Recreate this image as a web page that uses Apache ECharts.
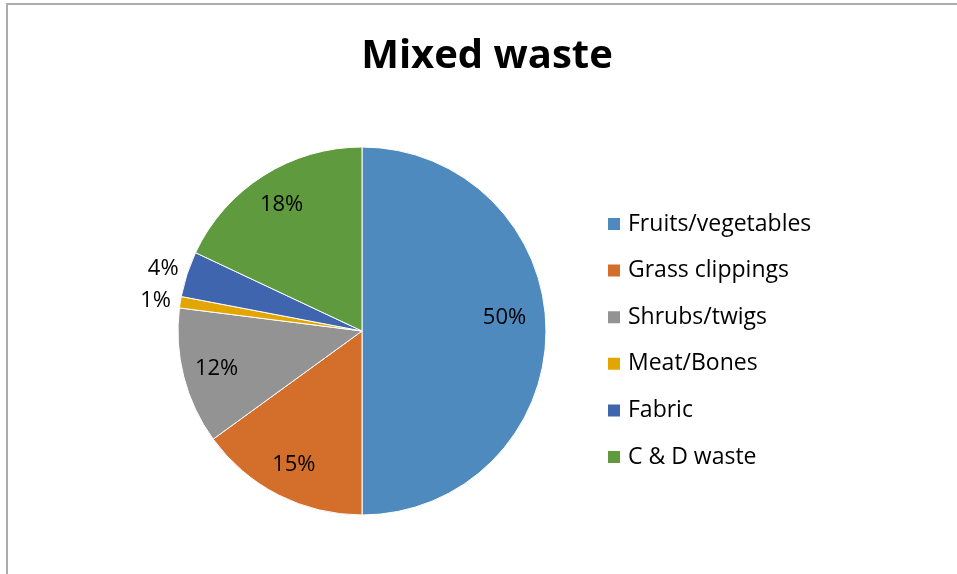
<!DOCTYPE html>
<html>
<head>
<meta charset="utf-8">
<script src="https://cdn.jsdelivr.net/npm/echarts@6/dist/echarts.min.js"></script>
<style>
html,body{margin:0;padding:0;background:#fff;}
#chart{width:957px;height:574px;}
</style>
</head>
<body>
<div id="chart"></div>
<script>
const categories = ['Fruits/vegetables', 'Grass clippings', 'Shrubs/twigs', 'Meat/Bones', 'Fabric', 'C & D waste'];
const values = [50, 15, 12, 1, 4, 18];
const colors = ['#4f8abe', '#d46e2b', '#939393', '#e3a600', '#3e65ad', '#5f9a3e'];

const CX = 362, CY = 331, R = 184;
const FONT = 'Open Sans';

const chart = echarts.init(document.getElementById('chart'));
chart.setOption({
  animation: false,
  backgroundColor: '#fff',
  color: colors,
  title: {
    text: 'Mixed waste',
    left: 487,
    textAlign: 'center',
    top: 37,
    padding: 0,
    textStyle: { fontFamily: FONT, fontWeight: 'bold', fontSize: 40, color: '#000' }
  },
  legend: {
    orient: 'vertical',
    left: 606,
    top: 212,
    padding: 0,
    itemWidth: 14,
    itemHeight: 14,
    itemGap: 22.6,
    icon: 'rect',
    data: categories,
    textStyle: { fontFamily: FONT, fontSize: 23, color: '#000', lineHeight: 24, padding: [0, 0, 0, 2] }
  },
  graphic: [{
    type: 'rect',
    shape: { x: 7, y: 4, width: 1000, height: 1000 },
    style: { fill: 'none', stroke: '#adadad', lineWidth: 2 },
    silent: true
  }],
  series: [{
    type: 'pie',
    center: [CX, CY],
    radius: R,
    startAngle: 90,
    clockwise: true,
    avoidLabelOverlap: false,
    itemStyle: { borderColor: '#fff', borderWidth: 1 },
    label: {
      show: true,
      position: 'inside',
      formatter: '{d}%',
      fontFamily: FONT,
      fontSize: 22,
      color: '#000'
    },
    labelLine: { show: false },
    labelLayout: function (p) {
      const lr = p.labelRect;
      const lx = lr.x + lr.width / 2, ly = lr.y + lr.height / 2;
      const v = values[p.dataIndex];
      const k = v < 5 ? 2.2 : (v >= 50 ? 1.5 : 1.58);
      return {
        x: CX + (lx - CX) * k,
        y: CY + (ly - CY) * k + (v >= 50 ? -13 : 0) + (v < 5 ? 2 : 0),
        align: 'center',
        verticalAlign: 'middle'
      };
    },
    data: categories.map((c, i) => ({ name: c, value: values[i] }))
  }]
});
</script>
</body>
</html>
